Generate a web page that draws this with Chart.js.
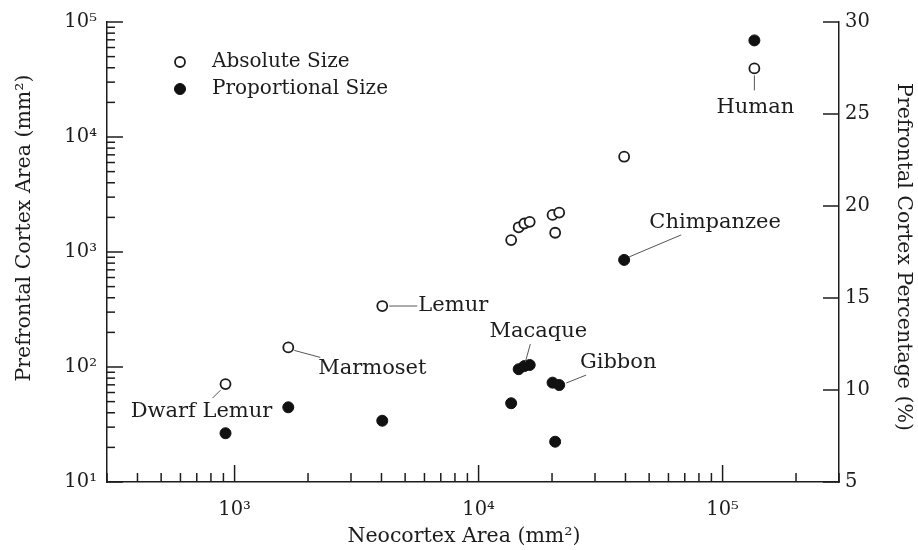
<!DOCTYPE html>
<html>
<head>
<meta charset="utf-8">
<script src="https://cdn.jsdelivr.net/npm/chart.js@4"></script>
<style>
  body { margin: 0; background: #fff; }
</style>
</head>
<body>
<canvas id="myChart" width="918" height="550"></canvas>
<script>
// neocortex area (mm2), prefrontal area (mm2) and prefrontal share (%)
const species = ['Dwarf Lemur', 'Marmoset', 'Lemur', '', '', 'Macaque', '', '', '', 'Gibbon', 'Chimpanzee', 'Human'];
const neocortex = [918, 1660, 4030, 13600, 14600, 15400, 16200, 20100, 20600, 21400, 39500, 135000];
const absoluteSize = [71, 148, 339, 1270, 1640, 1770, 1830, 2100, 1470, 2200, 6740, 39500];
const proportionalSize = [7.65, 9.06, 8.33, 9.28, 11.13, 11.30, 11.36, 10.40, 7.19, 10.27, 17.07, 29.0];

const xTicks = [1e3, 1e4, 1e5];
const yTicks = [1e1, 1e2, 1e3, 1e4, 1e5];
const pctTicks = [5, 10, 15, 20, 25, 30];

const xTitle = 'Neocortex Area (mm\u00b2)';
const yTitle = 'Prefrontal Cortex Area (mm\u00b2)';
const y2Title = 'Prefrontal Cortex Percentage (%)';

const ink = '#1c1c1c';
const serif = 'DejaVu Serif';
const sup = { 1: '\u00b9', 2: '\u00b2', 3: '\u00b3', 4: '\u2074', 5: '\u2075' };
const powLabel = (v) => '10' + sup[Math.round(Math.log10(v))];

// where each name sits relative to its point (px)
const callouts = {
  'Dwarf Lemur': { set: 0, dx: -24, dy: 27, line: [-13, 14, -5, 6] },
  'Marmoset':    { set: 0, dx: 84, dy: 21, line: [6, 3, 32, 10] },
  'Lemur':       { set: 0, dx: 71, dy: 0, line: [7, 0, 35, 0] },
  'Macaque':     { set: 1, dx: 14, dy: -35, line: [6, -22, 1, -4] },
  'Gibbon':      { set: 1, dx: 59, dy: -22, line: [7, -2, 27, -10] },
  'Chimpanzee':  { set: 1, dx: 91, dy: -37, line: [5, -3, 57, -25] },
  'Human':       { set: 0, dx: 1, dy: 39, line: [0, 7, 0, 22] },
};

const toPoints = (ys) => neocortex.map((x, i) => ({ x: x, y: ys[i] }));

const frame = {
  id: 'frame',
  afterDraw(chart) {
    const { ctx, chartArea: a, scales: { x, y, y2 } } = chart;
    ctx.save();
    ctx.strokeStyle = ink;
    ctx.lineWidth = 1.5;
    const seg = (x1, y1, x2, y2_) => {
      ctx.beginPath(); ctx.moveTo(x1, y1); ctx.lineTo(x2, y2_); ctx.stroke();
    };
    // inward log ticks
    for (let d = 100; d <= 1e5; d *= 10) {
      for (let k = 1; k <= 9; k++) {
        const v = d * k;
        if (v < x.min || v > x.max) continue;
        const px = x.getPixelForValue(v);
        seg(px, a.bottom, px, a.bottom - (k === 1 ? 17 : 9));
      }
    }
    for (let d = 10; d <= 1e5; d *= 10) {
      for (let k = 1; k <= 9; k++) {
        const v = d * k;
        if (v > y.max) continue;
        const py = y.getPixelForValue(v);
        seg(a.left, py, a.left + (k === 1 ? 16 : 8), py);
      }
    }
    pctTicks.forEach((v) => {
      const py = y2.getPixelForValue(v);
      seg(a.right, py, a.right - 16, py);
    });

    // axis titles
    ctx.fillStyle = ink;
    ctx.textAlign = 'center';
    ctx.textBaseline = 'middle';
    ctx.font = '20.5px "' + serif + '"';
    ctx.fillText(xTitle, 464, 537);
    ctx.save();
    ctx.translate(25, 228);
    ctx.rotate(-Math.PI / 2);
    ctx.fillText(yTitle, 0, 0);
    ctx.restore();
    ctx.save();
    ctx.translate(903, 257);
    ctx.rotate(Math.PI / 2);
    ctx.fillText(y2Title, 0, 0);
    ctx.restore();

    // species names
    ctx.font = '21px "' + serif + '"';
    species.forEach((name, i) => {
      const c = callouts[name];
      if (!c) return;
      const pt = chart.getDatasetMeta(c.set).data[i];
      ctx.strokeStyle = '#555';
      ctx.lineWidth = 1;
      seg(pt.x + c.line[0], pt.y + c.line[1], pt.x + c.line[2], pt.y + c.line[3]);
      ctx.fillText(name, pt.x + c.dx, pt.y + c.dy);
    });

    // legend
    ctx.font = '20px "' + serif + '"';
    ctx.textAlign = 'left';
    chart.data.datasets.forEach((ds, i) => {
      const lx = a.left + 73, ly = a.top + 40 + i * 27;
      ctx.beginPath();
      ctx.arc(lx, ly, ds.pointRadius, 0, Math.PI * 2);
      ctx.fillStyle = ds.pointBackgroundColor;
      ctx.fill();
      ctx.lineWidth = ds.pointBorderWidth;
      ctx.strokeStyle = ds.pointBorderColor;
      ctx.stroke();
      ctx.fillStyle = ink;
      ctx.fillText(ds.label, lx + 32, ly);
    });
    ctx.restore();
  }
};

const tickFont = { family: serif, size: 19.5 };

const config = {
  type: 'scatter',
  data: {
    datasets: [{
      label: 'Absolute Size',
      data: toPoints(absoluteSize),
      yAxisID: 'y',
      pointRadius: 5,
      pointBorderWidth: 1.8,
      pointBackgroundColor: '#fff',
      pointBorderColor: ink,
    }, {
      label: 'Proportional Size',
      data: toPoints(proportionalSize),
      yAxisID: 'y2',
      pointRadius: 5.5,
      pointBorderWidth: 1,
      pointBackgroundColor: '#111',
      pointBorderColor: '#111',
    }]
  },
  options: {
    responsive: false,
    animation: false,
    layout: { padding: { top: 22, left: 0, right: 0, bottom: 0 } },
    plugins: { legend: { display: false }, tooltip: { enabled: false } },
    scales: {
      x: {
        type: 'logarithmic',
        min: 300,
        max: 300000,
        afterBuildTicks: (s) => { s.ticks = xTicks.map((v) => ({ value: v })); },
        afterFit: (s) => { s.height = 68; },
        grid: { display: false, drawTicks: false },
        border: { display: true, color: ink, width: 1.5 },
        ticks: { callback: powLabel, font: tickFont, color: ink, padding: 16, autoSkip: false, maxRotation: 0 },
      },
      y: {
        type: 'logarithmic',
        position: 'left',
        min: 10,
        max: 100000,
        afterBuildTicks: (s) => { s.ticks = yTicks.map((v) => ({ value: v })); },
        afterFit: (s) => { s.width = 107; },
        grid: { display: false, drawTicks: false },
        border: { display: true, color: ink, width: 1.5 },
        ticks: { callback: powLabel, font: tickFont, color: ink, padding: 10 },
      },
      y2: {
        type: 'linear',
        position: 'right',
        min: 5,
        max: 30,
        afterBuildTicks: (s) => { s.ticks = pctTicks.map((v) => ({ value: v })); },
        afterFit: (s) => { s.width = 79; },
        grid: { display: false, drawTicks: false },
        border: { display: true, color: ink, width: 1.5 },
        ticks: { font: tickFont, color: ink, padding: 6 },
      },
    },
  },
  plugins: [frame],
};

const myChart = new Chart(document.getElementById('myChart'), config);
</script>
</body>
</html>
